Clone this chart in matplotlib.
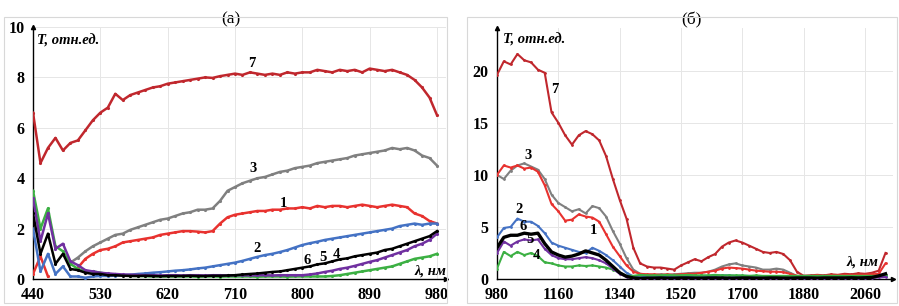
import numpy as np
import matplotlib
matplotlib.use("Agg")
import matplotlib.pyplot as plt
from matplotlib.patches import Rectangle

plt.rcParams['font.family'] = ['Liberation Serif', 'DejaVu Serif']

nan = np.nan

# ---- panel (a): 440..980 nm, step 10 ----
wl_a = np.arange(440, 981, 10)

a7 = [6.6, 4.6, 5.2, 5.6, 5.1, 5.4, 5.5, 5.9, 6.3, 6.6,
      6.8, 7.35, 7.1, 7.3, 7.4, 7.5, 7.6, 7.65, 7.75, 7.8,
      7.85, 7.9, 7.95, 8.0, 7.98, 8.05, 8.1, 8.15, 8.1, 8.2,
      8.15, 8.1, 8.15, 8.1, 8.2, 8.15, 8.2, 8.2, 8.3, 8.25,
      8.2, 8.3, 8.25, 8.3, 8.2, 8.35, 8.3, 8.25, 8.3, 8.2,
      8.1, 7.9, 7.6, 7.2, 6.5]
a3 = [nan, nan, nan, nan, nan, 0.65, 0.85, 1.1, 1.3, 1.45,
      1.6, 1.75, 1.8, 1.95, 2.05, 2.15, 2.25, 2.35, 2.4, 2.5,
      2.6, 2.65, 2.75, 2.75, 2.8, 3.1, 3.5, 3.65, 3.8, 3.9,
      4.0, 4.05, 4.15, 4.25, 4.3, 4.4, 4.45, 4.5, 4.6, 4.65,
      4.7, 4.75, 4.8, 4.9, 4.95, 5.0, 5.05, 5.1, 5.2, 5.15,
      5.2, 5.1, 4.9, 4.8, 4.5]
a1 = [0.2, 0.9, 0.1, nan, nan, nan, 0.45, 0.8, 1.0, 1.15,
      1.2, 1.3, 1.45, 1.5, 1.55, 1.6, 1.65, 1.75, 1.8, 1.85,
      1.9, 1.9, 1.88, 1.85, 1.9, 2.2, 2.45, 2.55, 2.6, 2.65,
      2.7, 2.7, 2.75, 2.75, 2.8, 2.8, 2.85, 2.8, 2.9, 2.85,
      2.9, 2.9, 2.85, 2.9, 2.95, 2.9, 2.85, 2.9, 2.95, 2.9,
      2.85, 2.6, 2.5, 2.3, 2.2]
a2 = [2.0, 0.3, 1.0, 0.2, 0.5, 0.1, 0.1, 0.05, 0.1, 0.12,
      0.12, 0.13, 0.15, 0.17, 0.2, 0.22, 0.25, 0.27, 0.3, 0.33,
      0.35, 0.38, 0.42, 0.45, 0.5, 0.55, 0.6, 0.65, 0.72, 0.8,
      0.88, 0.95, 1.0, 1.07, 1.15, 1.25, 1.35, 1.42, 1.48, 1.55,
      1.6, 1.65, 1.7, 1.75, 1.8, 1.85, 1.9, 1.95, 2.0, 2.1,
      2.15, 2.2, 2.15, 2.2, 2.2]
a6 = [2.6, 1.0, 1.8, 0.6, 1.0, 0.4, 0.35, 0.25, 0.2, 0.2,
      0.15, 0.15, 0.13, 0.12, 0.12, 0.13, 0.12, 0.11, 0.12, 0.12,
      0.12, 0.13, 0.12, 0.12, 0.13, 0.13, 0.14, 0.15, 0.18, 0.2,
      0.22, 0.25, 0.28, 0.3, 0.35, 0.4, 0.45, 0.5, 0.58, 0.62,
      0.7, 0.78, 0.82, 0.9, 0.95, 1.0, 1.05, 1.15, 1.2, 1.3,
      1.4, 1.5, 1.6, 1.7, 1.9]
a5 = [3.2, 1.5, 2.6, 1.2, 1.4, 0.7, 0.55, 0.35, 0.3, 0.25,
      0.22, 0.2, 0.18, 0.17, 0.16, 0.15, 0.15, 0.14, 0.15, 0.15,
      0.14, 0.15, 0.15, 0.14, 0.15, 0.15, 0.14, 0.15, 0.15, 0.14,
      0.15, 0.15, 0.14, 0.15, 0.15, 0.15, 0.15, 0.18, 0.22, 0.28,
      0.33, 0.4, 0.45, 0.52, 0.6, 0.68, 0.75, 0.85, 0.95, 1.05,
      1.15, 1.3, 1.4, 1.55, 1.8]
a4 = [3.5, 2.0, 2.8, 1.3, 1.1, 0.6, 0.4, 0.3, 0.3, 0.25,
      0.2, 0.18, 0.15, 0.13, 0.12, 0.11, 0.1, 0.1, 0.1, 0.1,
      0.1, 0.1, 0.09, 0.1, 0.1, 0.09, 0.1, 0.1, 0.1, 0.1,
      0.09, 0.1, 0.1, 0.1, 0.09, 0.1, 0.1, 0.1, 0.1, 0.1,
      0.12, 0.15, 0.2, 0.25, 0.3, 0.35, 0.4, 0.45, 0.5, 0.6,
      0.7, 0.8, 0.85, 0.9, 1.0]

# ---- panel (б): 980..2120 nm, step 20 ----
wl_b = np.arange(980, 2121, 20)

b7 = [19.6, 20.9, 20.6, 21.6, 21.0, 20.8, 20.1, 19.8, 16.0, 15.0,
      13.8, 12.9, 13.8, 14.2, 13.9, 13.3, 11.8, 9.6, 7.6, 5.8,
      3.0, 1.5, 1.2, 1.1, 1.1, 1.0, 0.9, 1.3, 1.6, 1.9,
      1.7, 2.1, 2.4, 3.1, 3.5, 3.7, 3.5, 3.2, 2.9, 2.6,
      2.5, 2.6, 2.4, 1.8, 0.7, 0.3, 0.35, 0.4, 0.35, 0.45,
      0.4, 0.5, 0.45, 0.55, 0.5, 0.6, 0.8, 2.5]
b1 = [10.0, 10.9, 10.7, 10.9, 10.6, 10.7, 10.3, 9.0, 7.2, 6.5,
      5.6, 5.7, 6.2, 6.0, 5.9, 5.5, 4.3, 3.1, 2.2, 1.3,
      0.7, 0.5, 0.45, 0.45, 0.4, 0.45, 0.4, 0.45, 0.5, 0.5,
      0.6, 0.7, 0.8, 1.0, 1.1, 1.05, 1.0, 0.9, 0.8, 0.75,
      0.7, 0.7, 0.65, 0.5, 0.3, 0.3, 0.3, 0.35, 0.3, 0.35,
      0.35, 0.4, 0.35, 0.4, 0.4, 0.45, 0.5, 1.5]
b3 = [10.0, 9.6, 10.4, 10.9, 11.1, 10.8, 10.5, 9.6, 8.1, 7.3,
      6.9, 6.5, 6.7, 6.3, 7.0, 6.8, 6.0, 4.6, 3.4, 2.0,
      0.9, 0.5, 0.4, 0.4, 0.45, 0.4, 0.45, 0.5, 0.55, 0.6,
      0.6, 0.7, 0.9, 1.2, 1.4, 1.5, 1.3, 1.2, 1.1, 0.9,
      0.9, 1.0, 0.9, 0.6, 0.3, 0.3, 0.3, 0.3, 0.3, 0.3,
      0.3, 0.3, 0.3, 0.3, 0.3, 0.3, 0.3, 0.4]
b2 = [4.0, 4.9, 5.0, 5.8, 5.5, 5.5, 5.1, 4.4, 3.5, 3.2,
      3.0, 2.8, 2.6, 2.5, 3.0, 2.7, 2.3, 1.8, 1.2, 0.6,
      0.25, 0.2, 0.2, 0.25, 0.25, 0.2, 0.25, 0.25, 0.3, 0.25,
      0.3, 0.3, 0.3, 0.35, 0.35, 0.3, 0.3, 0.3, 0.25, 0.25,
      0.25, 0.25, 0.25, 0.2, 0.2, 0.2, 0.2, 0.2, 0.2, 0.2,
      0.2, 0.2, 0.2, 0.2, 0.2, 0.2, 0.25, 0.3]
b6 = [3.0, 4.0, 4.2, 4.2, 4.4, 4.3, 4.4, 3.4, 2.6, 2.3,
      2.1, 2.2, 2.4, 2.7, 2.5, 2.3, 1.8, 1.2, 0.6, 0.25,
      0.1, 0.05, 0.08, 0.08, 0.1, 0.08, 0.08, 0.1, 0.1, 0.08,
      0.08, 0.1, 0.1, 0.1, 0.08, 0.08, 0.1, 0.1, 0.08, 0.08,
      0.1, 0.1, 0.08, 0.08, 0.1, 0.1, 0.1, 0.08, 0.1, 0.1,
      0.1, 0.1, 0.12, 0.1, 0.12, 0.15, 0.3, 0.5]
b5 = [2.5, 3.6, 3.2, 3.6, 3.8, 3.7, 3.8, 2.9, 2.3, 2.0,
      1.9, 1.9, 2.0, 2.1, 2.0, 1.8, 1.5, 1.0, 0.5, 0.2,
      0.1, 0.1, 0.1, 0.1, 0.1, 0.1, 0.1, 0.1, 0.1, 0.1,
      0.1, 0.1, 0.1, 0.1, 0.1, 0.1, 0.1, 0.1, 0.1, 0.1,
      0.1, 0.1, 0.1, 0.1, 0.1, 0.1, 0.1, 0.1, 0.1, 0.1,
      0.1, 0.1, 0.1, 0.1, 0.1, 0.1, 0.15, 0.2]
b4 = [1.0, 2.6, 2.2, 2.6, 2.3, 2.5, 2.2, 1.6, 1.5, 1.3,
      1.2, 1.2, 1.3, 1.25, 1.3, 1.2, 1.1, 0.9, 0.6, 0.3,
      0.3, 0.4, 0.35, 0.35, 0.35, 0.4, 0.35, 0.35, 0.4, 0.35,
      0.35, 0.35, 0.4, 0.35, 0.35, 0.35, 0.35, 0.3, 0.35, 0.3,
      0.3, 0.3, 0.3, 0.3, 0.3, 0.3, 0.3, 0.3, 0.3, 0.3,
      0.3, 0.3, 0.3, 0.3, 0.3, 0.3, 0.3, 0.35]

xticks_a = [440, 530, 620, 710, 800, 890, 980]
yticks_a = [0, 2, 4, 6, 8, 10]
xticks_b = [980, 1160, 1340, 1520, 1700, 1880, 2060]
yticks_b = [0, 5, 10, 15, 20]

col = {'1': '#e8322f', '2': '#4472c4', '3': '#808080', '4': '#3cb043',
       '5': '#7030a0', '6': '#000000', '7': '#c0272d'}

W, H = 899, 306
fig = plt.figure(figsize=(W / 100, H / 100), dpi=100)

# light panel frames
for x0, x1 in [(4, 447), (467, 897)]:
    fig.patches.append(Rectangle((x0 / W, 3 / H), (x1 - x0) / W, (289 - 3) / H,
                                 transform=fig.transFigure, fill=False,
                                 edgecolor='#d8d8d8', lw=0.8))

ax1 = fig.add_axes([33 / W, 27 / H, (446 - 33) / W, (279 - 27) / H])
ax2 = fig.add_axes([497 / W, 27 / H, (893 - 497) / W, (279 - 28) / H])

bold = dict(fontweight='bold', fontsize=10.5)
boldit = dict(fontweight='bold', fontstyle='italic', fontsize=10.5)


def style(ax, xt, yt):
    for s in ['top', 'right']:
        ax.spines[s].set_visible(False)
    for s in ['left', 'bottom']:
        ax.spines[s].set_linewidth(1.0)
    ax.set_xticks(xt)
    ax.set_yticks(yt)
    ax.tick_params(length=0, pad=6)
    for lab in ax.get_xticklabels() + ax.get_yticklabels():
        lab.set_fontweight('bold')
        lab.set_fontsize(11.5)
    ax.grid(True, color='#e6e6e6', lw=0.7)
    ax.set_axisbelow(True)
    ax.plot(1, 0, '>k', ms=3, transform=ax.transAxes, clip_on=False)
    ax.plot(0, 1, '^k', ms=3, transform=ax.transAxes, clip_on=False)


# panel (a)
for key, ys in [('7', a7), ('3', a3), ('1', a1), ('2', a2), ('4', a4), ('5', a5), ('6', a6)]:
    ax1.plot(wl_a, ys, color=col[key], lw=1.8, marker='.', ms=2.5, zorder=3)
ax1.set_xlim(440, 992)
ax1.set_ylim(0, 10)
style(ax1, xticks_a, yticks_a)

for lab, x, y in [('7', 733, 8.55), ('3', 734, 4.4), ('1', 775, 3.0), ('2', 740, 1.2),
                  ('6', 806, 0.75), ('5', 828, 0.87), ('4', 846, 0.99)]:
    ax1.text(x, y, lab, ha='center', va='center', **bold)
ax1.text(446, 9.45, 'T, отн.ед.', ha='left', va='center', **boldit)
ax1.text(992, 0.3, 'λ, нм', ha='right', va='center', **boldit)
ax1.set_title('(а)', fontsize=12.5, pad=-2, x=0.48)

# panel (б)
for key, ys in [('7', b7), ('3', b3), ('1', b1), ('2', b2), ('4', b4), ('5', b5)]:
    ax2.plot(wl_b, ys, color=col[key], lw=1.5, marker='.', ms=2, zorder=3)
ax2.plot(wl_b, b6, color=col['6'], lw=2.4, zorder=4)
ax2.set_xlim(980, 2142)
ax2.set_ylim(0, 24.1)
style(ax2, xticks_b, yticks_b)

for lab, x, y in [('7', 1150, 18.2), ('3', 1071, 11.9), ('2', 1045, 6.7), ('6', 1056, 5.0),
                  ('5', 1077, 3.75), ('4', 1097, 2.3), ('1', 1262, 4.7)]:
    ax2.text(x, y, lab, ha='center', va='center', **bold)
ax2.text(998, 23.0, 'T, отн.ед.', ha='left', va='center', **boldit)
ax2.text(2098, 1.6, 'λ, нм', ha='right', va='center', **boldit)
ax2.set_title('(б)', fontsize=12.5, pad=-2, x=0.49)

fig.savefig('out.png', dpi=100)
